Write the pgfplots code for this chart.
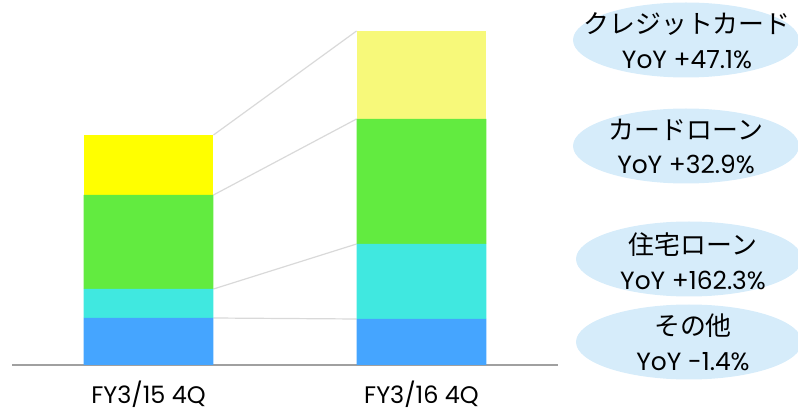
\documentclass[border=0pt]{standalone}
\usepackage{fontspec}
\setmainfont{Poppins}
\newfontfamily\jp{Noto Sans CJK JP}
\usepackage{pgfplots}
\pgfplotsset{compat=1.18}
\usetikzlibrary{shapes.geometric}

\definecolor{cblue}{RGB}{69,165,255}
\definecolor{ccyan}{RGB}{64,232,224}
\definecolor{cgreen}{RGB}{98,235,64}
\definecolor{cyellow}{RGB}{255,255,0}
\definecolor{cpale}{RGB}{247,249,122}
\definecolor{cline}{RGB}{217,217,217}
\definecolor{caxis}{RGB}{160,160,160}
\definecolor{cell}{RGB}{214,236,250}

\pgfplotsset{
  base/.style={
    at={(12bp,47bp)}, anchor=south west,
    width=546bp, height=365bp, scale only axis,
    xmin=-0.5, xmax=1.5, ymin=0, ymax=365,
  },
}

\begin{document}
\begin{tikzpicture}
\useasboundingbox (0,0) rectangle (798bp,412bp);

% connector lines between the bars
\begin{axis}[base, hide axis]
\addplot[cline, line width=1.2bp] coordinates {(0.238,47) (0.762,46)};
\addplot[cline, line width=1.2bp] coordinates {(0.238,76) (0.762,121)};
\addplot[cline, line width=1.2bp] coordinates {(0.238,170) (0.762,246)};
\addplot[cline, line width=1.2bp] coordinates {(0.238,230) (0.762,334)};
\end{axis}

% stacked bars
\begin{axis}[base,
  ybar stacked, bar width=0.476,
  axis x line*=bottom, axis y line=none,
  x axis line style={draw=caxis, line width=1.5bp, -},
  ytick=\empty,
  xtick={0,1}, xticklabels={FY3/15 4Q, FY3/16 4Q},
  major tick length=0pt,
  xticklabel style={anchor=base, yshift=-38bp, font=\fontsize{24}{28}\selectfont},
]
\addplot[fill=cblue, draw=none] coordinates {(0,47) (1,46)};
\addplot[fill=ccyan, draw=none] coordinates {(0,29) (1,75)};
\addplot[fill=cgreen, draw=none] coordinates {(0,94) (1,125)};
\addplot[fill=cyellow, draw=none] coordinates {(0,60) (1,0)};
\addplot[fill=cpale, draw=none] coordinates {(0,0) (1,88)};
\end{axis}

% labels on the right
\tikzset{ell/.style={ellipse, fill=cell, inner sep=0pt, minimum width=226bp, minimum height=75bp},
         lab/.style={align=center, inner sep=0pt, font=\fontsize{25}{35}\selectfont}}
\node[ell] at (686bp,372bp) {};
\node[ell] at (686bp,266bp) {};
\node[ell] at (689bp,153bp) {};
\node[ell] at (689bp,70bp) {};
\node[lab] at (687bp,371.5bp) {{\jp\fontsize{26}{35}\selectfont クレジットカード}\\YoY +47.1\%};
\node[lab] at (686bp,265.5bp) {{\jp\fontsize{26}{35}\selectfont カードローン}\\YoY +32.9\%};
\node[lab] at (693bp,151bp) {{\jp\fontsize{26}{35}\selectfont 住宅ローン}\\YoY +162.3\%};
\node[lab] at (693bp,70bp) {{\jp\fontsize{26}{35}\selectfont その他}\\YoY -1.4\%};
\end{tikzpicture}
\end{document}
